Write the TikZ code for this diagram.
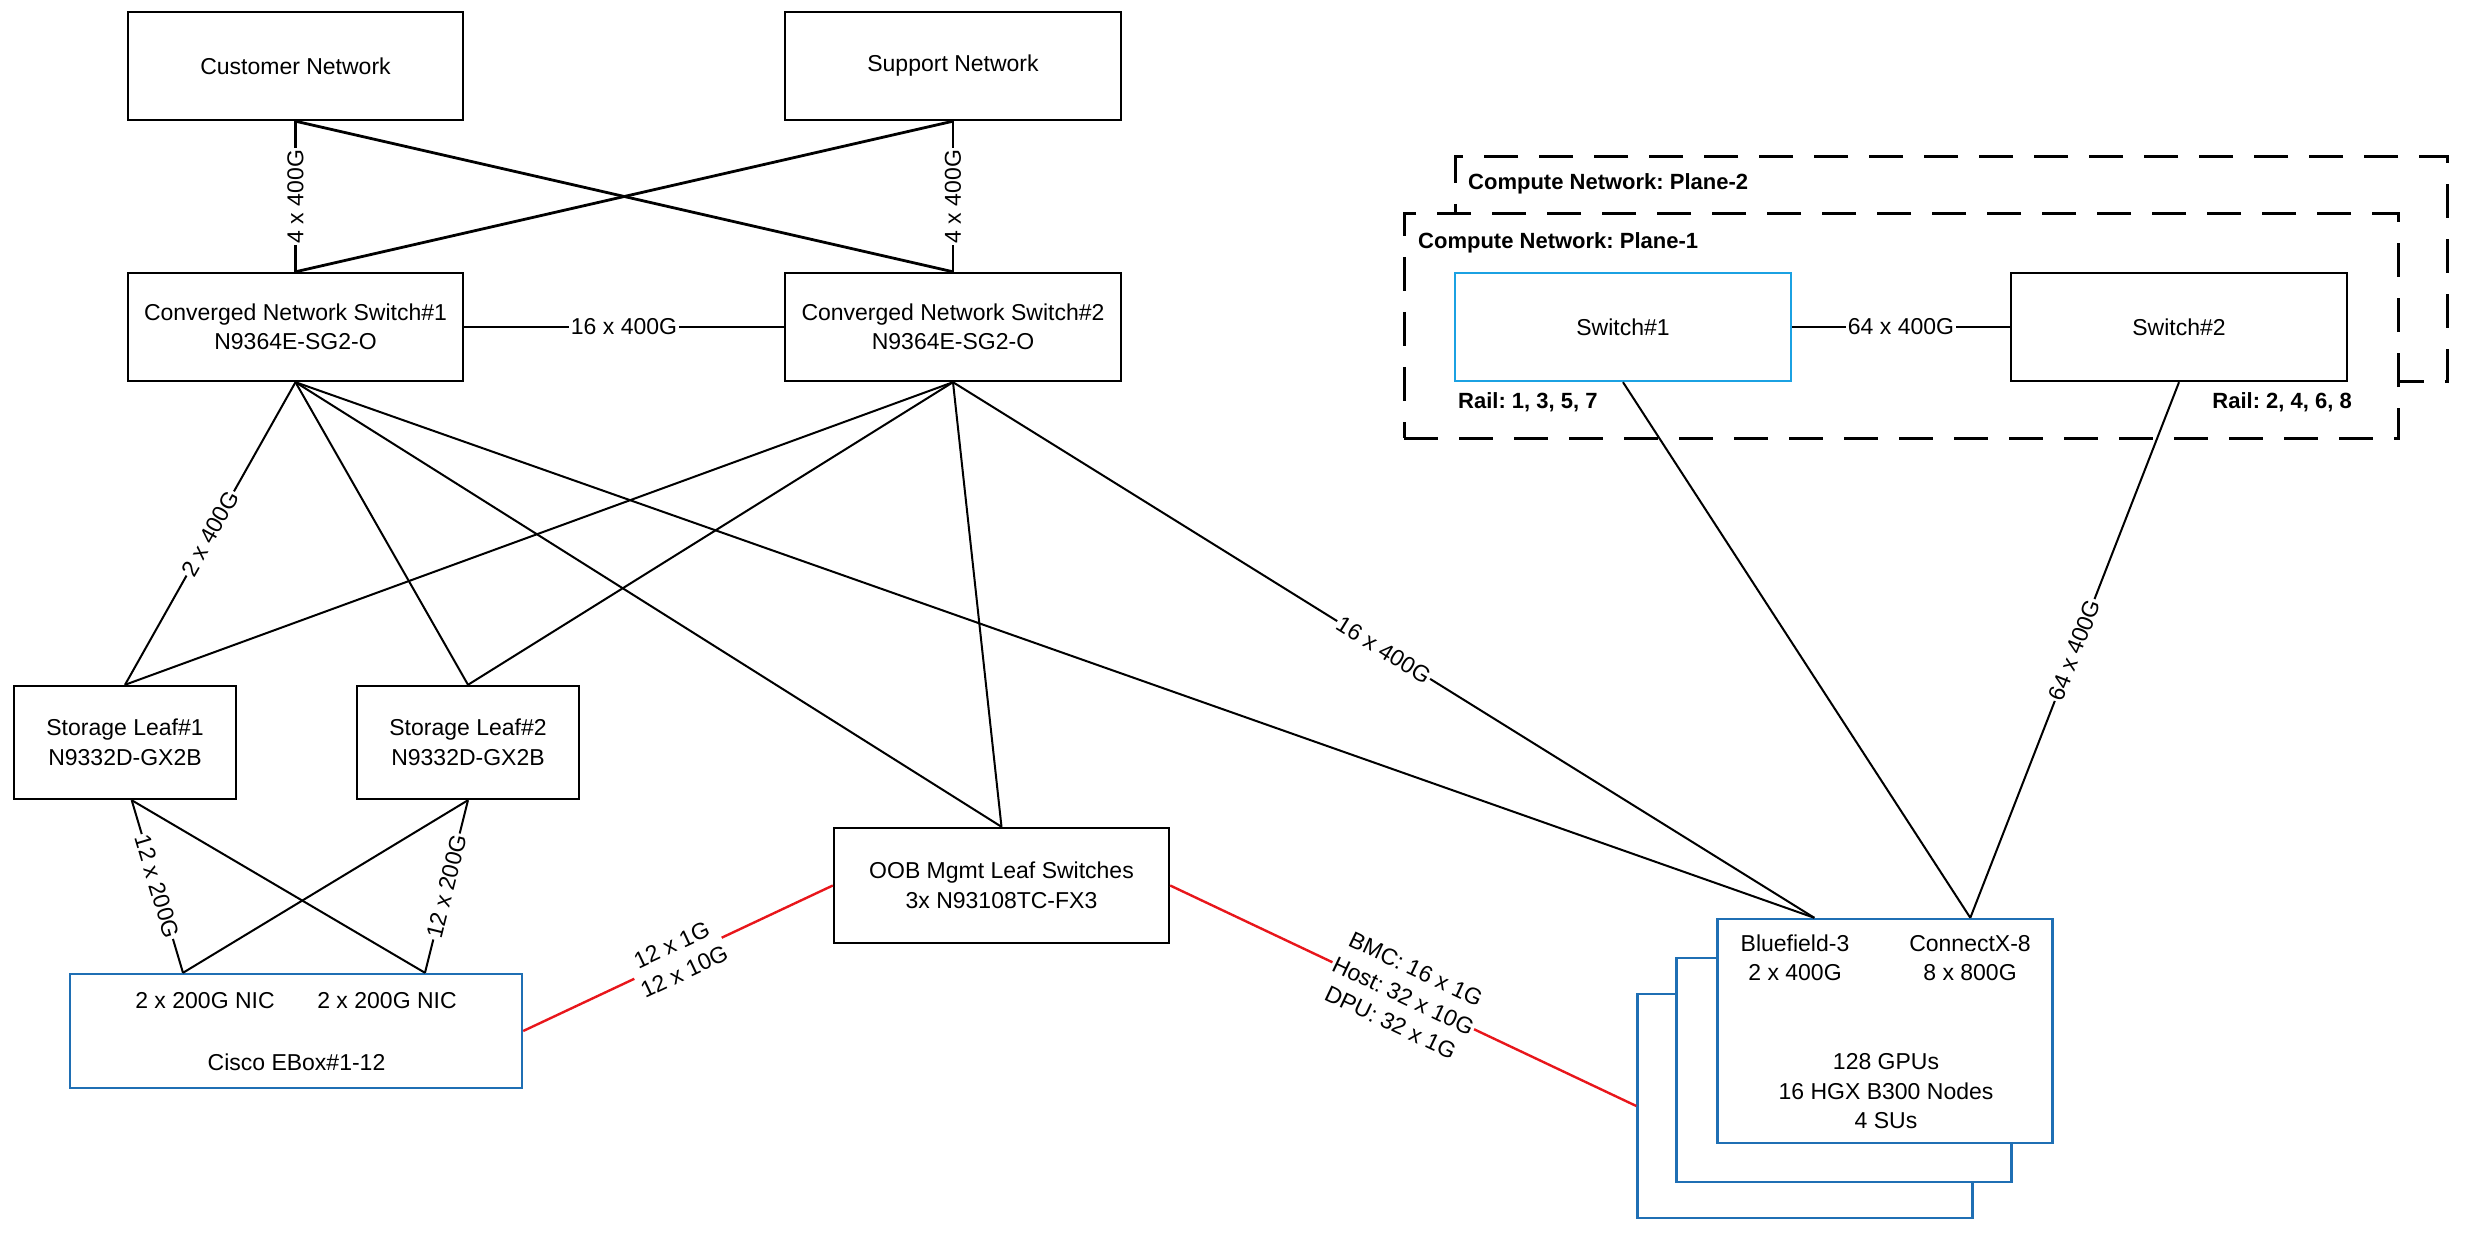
\documentclass[tikz,border=0pt]{standalone}
\usepackage{fontspec}
\setmainfont{Liberation Sans}
\frenchspacing
\definecolor{swblue}{HTML}{1BA1E2}
\definecolor{gpublue}{HTML}{1F6FB4}
\definecolor{linkred}{HTML}{E8161B}
\newcommand{\txtf}{\fontsize{23}{29.5}\selectfont}
\newcommand{\lblf}{\fontsize{22}{27}\selectfont\bfseries}
\begin{document}
\begin{tikzpicture}[x=1pt,y=-1pt,
  box/.style={draw, line width=2.4pt, fill=white, align=center, inner sep=0pt, font=\txtf},
  plane/.style={draw, line width=3pt, dash pattern=on 34pt off 21pt, inner sep=0pt},
  thicklink/.style={line width=2.8pt},
  link/.style={line width=2pt},
  redlink/.style={line width=2.4pt, draw=linkred},
  lbl/.style={fill=white, inner sep=1.5pt, font=\txtf, align=center},
  txt/.style={inner sep=0pt, font=\txtf, align=center},
  plbl/.style={inner sep=0pt, font=\lblf},
]
\useasboundingbox (0,0) rectangle (2466,1233);

% compute network planes
\node[plane, minimum width=992pt, minimum height=224pt] (plane2) at (1951,269) {};
\node[plane, fill=white, minimum width=994pt, minimum height=224pt] (plane1) at (1901,326) {};
\node[plbl, anchor=west] (p2lbl) at (1468,184) {Compute Network: Plane-2};
\node[plbl, anchor=west] (p1lbl) at (1418,243) {Compute Network: Plane-1};
\node[box, draw=swblue, minimum width=336pt, minimum height=108pt] (sw1) at (1623,327) {Switch\#1};
\node[box, minimum width=336pt, minimum height=108pt] (sw2) at (2179,327) {Switch\#2};
\node[plbl, anchor=west] (rail1) at (1458,402) {Rail: 1, 3, 5, 7};
\node[plbl, anchor=east] (rail2) at (2352,402) {Rail: 2, 4, 6, 8};

% left part
\node[box, minimum width=335pt, minimum height=108pt] (cust) at (295.5,66) {Customer Network};
\node[box, minimum width=336pt, minimum height=108pt] (supp) at (953,66) {Support Network};
\node[box, minimum width=335pt, minimum height=108pt] (conv1) at (295.5,327) {Converged Network Switch\#1\\N9364E-SG2-O};
\node[box, minimum width=336pt, minimum height=108pt] (conv2) at (953,327) {Converged Network Switch\#2\\N9364E-SG2-O};
\node[box, minimum width=222pt, minimum height=113pt] (leaf1) at (125,742.5) {Storage Leaf\#1\\N9332D-GX2B};
\node[box, minimum width=222pt, minimum height=113pt] (leaf2) at (468,742.5) {Storage Leaf\#2\\N9332D-GX2B};
\node[box, minimum width=335pt, minimum height=115pt] (oob) at (1001.5,885.5) {OOB Mgmt Leaf Switches\\3x N93108TC-FX3};
\node[box, draw=gpublue, minimum width=452pt, minimum height=114pt] (ebox) at (296,1031) {};
\node[txt] (nic1) at (205,1001) {2 x 200G NIC};
\node[txt] (nic2) at (387,1001) {2 x 200G NIC};
\node[txt] (eboxname) at (296.5,1062) {Cisco EBox\#1-12};

% GPU stack
\node[box, draw=gpublue, minimum width=335pt, minimum height=224pt] (gpu3) at (1805,1106) {};
\node[box, draw=gpublue, minimum width=335pt, minimum height=224pt] (gpu2) at (1844,1070) {};
\node[box, draw=gpublue, minimum width=335pt, minimum height=224pt] (gpu1) at (1885,1031) {};
\node[txt] (bf3) at (1795,958) {Bluefield-3\\2 x 400G};
\node[txt] (cx8) at (1970,958) {ConnectX-8\\8 x 800G};
\node[txt] (gpus) at (1886,1091.5) {128 GPUs\\16 HGX B300 Nodes\\4 SUs};

% connectors
\draw[thicklink] (cust.south) -- node[lbl, rotate=90] {4 x 400G} (conv1.north);
\draw[thicklink] (cust.south) -- (conv2.north);
\draw[thicklink] (supp.south) -- (conv1.north);
\draw[thicklink] (supp.south) -- node[lbl, rotate=90] {4 x 400G} (conv2.north);
\draw[thicklink] (conv1.east) -- node[lbl] {16 x 400G} (conv2.west);

\draw[link] (conv1.south) -- node[lbl, sloped] {2 x 400G} (leaf1.north);
\draw[link] (conv1.south) -- (leaf2.north);
\draw[link] (conv1.south) -- (oob.north);
\draw[link] (conv1.south) -- ([xshift=98pt]gpu1.north west);
\draw[link] (conv2.south) -- (leaf1.north);
\draw[link] (conv2.south) -- (leaf2.north);
\draw[link] (conv2.south) -- (oob.north);
\draw[link] (conv2.south) -- node[lbl, sloped] {16 x 400G} ([xshift=98pt]gpu1.north west);

\draw[thicklink] (sw1.east) -- node[lbl] {64 x 400G} (sw2.west);
\draw[link] (sw1.south) -- ([xshift=254pt]gpu1.north west);
\draw[link] (sw2.south) -- node[lbl, sloped] {64 x 400G} ([xshift=254pt]gpu1.north west);

\draw[link] ([xshift=6.7pt]leaf1.south) -- node[lbl, sloped] {12 x 200G} ([xshift=-113pt]ebox.north);
\draw[link] ([xshift=6.7pt]leaf1.south) -- ([xshift=129pt]ebox.north);
\draw[link] (leaf2.south) -- ([xshift=-113pt]ebox.north);
\draw[link] (leaf2.south) -- node[lbl, sloped] {12 x 200G} ([xshift=129pt]ebox.north);

\draw[redlink] (ebox.east) -- node[lbl, sloped] {12 x 1G\\12 x 10G} (oob.west);
\draw[redlink] (oob.east) -- node[lbl, sloped] {BMC: 16 x 1G\\Host: 32 x 10G\\DPU: 32 x 1G} (gpu3.west);
\end{tikzpicture}
\end{document}
